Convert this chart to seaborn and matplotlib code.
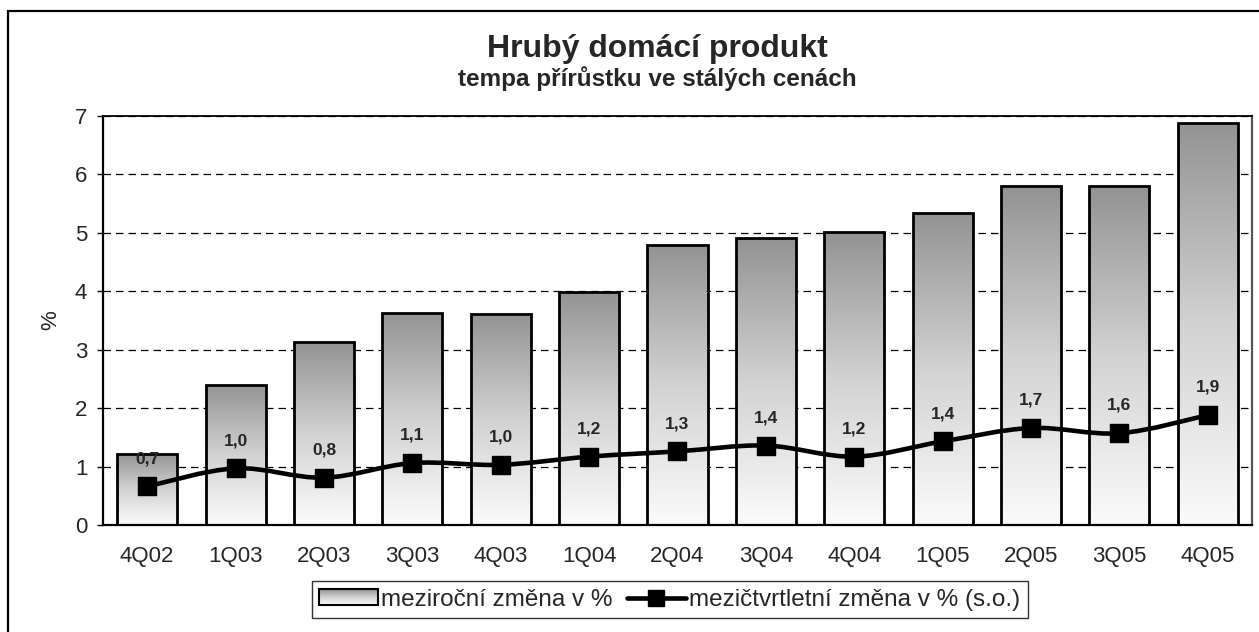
import matplotlib
matplotlib.use("Agg")
import matplotlib.pyplot as plt
import seaborn as sns
import numpy as np
from matplotlib.path import Path
from matplotlib.patches import PathPatch, Rectangle
from matplotlib.lines import Line2D
from matplotlib.legend_handler import HandlerBase
from matplotlib.image import BboxImage
from matplotlib.transforms import Bbox, TransformedBbox

quarters = ["4Q02", "1Q03", "2Q03", "3Q03", "4Q03", "1Q04", "2Q04",
            "3Q04", "4Q04", "1Q05", "2Q05", "3Q05", "4Q05"]
yoy = [1.22, 2.40, 3.13, 3.63, 3.61, 3.99, 4.80, 4.91, 5.01, 5.34, 5.80, 5.80, 6.88]
qoq = [0.66, 0.97, 0.81, 1.06, 1.03, 1.17, 1.26, 1.36, 1.17, 1.43, 1.66, 1.57, 1.88]

title = "Hrubý domácí produkt"
subtitle = "tempa přírůstku ve stálých cenách"
bar_label = "meziroční změna v %"
line_label = "mezičtvrtletní změna v % (s.o.)"

sns.set_style("white")
plt.rcParams["font.family"] = ["Liberation Sans", "DejaVu Sans"]

# vertical gradient: dark grey on top, almost white at the bottom
grad = np.linspace(0, 1, 256).reshape(-1, 1)
gray_cmap = matplotlib.colors.LinearSegmentedColormap.from_list(
    "barfill", ["#939393", "#d2d2d2", "#fbfbfb"])

fig = plt.figure(figsize=(12.59, 6.32), dpi=100)
ax = fig.add_axes([0.0818, 0.1693, 0.9126, 0.6472])

sns.barplot(x=quarters, y=yoy, ax=ax, width=0.68, color="white",
            edgecolor="black", linewidth=2, zorder=3)

for p in ax.patches:
    x0, y0 = p.get_x(), p.get_y()
    w, h = p.get_width(), p.get_height()
    im = ax.imshow(grad, cmap=gray_cmap, aspect="auto", origin="upper",
                   extent=[x0, x0 + w, y0, y0 + h], zorder=2.5,
                   interpolation="bilinear")
    im.set_clip_path(p)
    p.set_facecolor("none")

# smoothed line (Catmull-Rom style Bezier through the data points)
xs = np.arange(len(qoq), dtype=float)
ys = np.array(qoq)
pts = np.column_stack([xs, ys])
verts = [tuple(pts[0])]
codes = [Path.MOVETO]
for i in range(len(pts) - 1):
    p0 = pts[i - 1] if i > 0 else pts[i]
    p1, p2 = pts[i], pts[i + 1]
    p3 = pts[i + 2] if i + 2 < len(pts) else pts[i + 1]
    c1 = p1 + (p2 - p0) / 6
    c2 = p2 - (p3 - p1) / 6
    verts += [tuple(c1), tuple(c2), tuple(p2)]
    codes += [Path.CURVE4] * 3
ax.add_patch(PathPatch(Path(verts, codes), facecolor="none", edgecolor="black",
                       lw=3.3, zorder=4, capstyle="round", joinstyle="round"))
sns.scatterplot(x=xs, y=ys, ax=ax, marker="s", s=160, color="black",
                edgecolor="black", zorder=5, legend=False)

for xi, v in zip(xs, qoq):
    ax.annotate(f"{v:.1f}".replace(".", ","), (xi, v), xytext=(0, 20),
                textcoords="offset points", ha="center", va="center",
                fontsize=12.5, fontweight="bold", zorder=6)

ax.set_xlim(-0.5, len(quarters) - 0.5)
ax.set_ylim(0, 7)
ax.set_yticks(range(8))
ax.yaxis.grid(True, color="black", linestyle=(0, (6, 4)), linewidth=0.9)
ax.set_axisbelow(True)
ax.tick_params(axis="y", length=4.3, width=1, pad=7, labelsize=16, left=True, color="black")
ax.tick_params(axis="x", length=0, pad=15, labelsize=16)
ax.set_ylabel("%", fontsize=16, labelpad=10)
ax.set_xlabel("")
for side, sp in ax.spines.items():
    sp.set_visible(True)
    sp.set_color("black")
    sp.set_linewidth(1.6)
ax.spines["right"].set_color("#555555")
ax.spines["top"].set_linewidth(1.3)

fig.text(0.522, 0.922, title, ha="center", va="center", fontsize=23, fontweight="bold")
fig.text(0.522, 0.876, subtitle, ha="center", va="center", fontsize=17.5, fontweight="bold")


class GradientHandler(HandlerBase):
    def create_artists(self, legend, orig_handle, xdescent, ydescent,
                       width, height, fontsize, trans):
        x0, y0 = -xdescent, -ydescent
        bb = TransformedBbox(Bbox.from_bounds(x0, y0, width, height), trans)
        img = BboxImage(bb, cmap=gray_cmap, interpolation="bilinear")
        img.set_data(np.linspace(0, 1, 64).reshape(-1, 1))
        img.set_clim(0, 1)
        rect = Rectangle((x0, y0), width, height, facecolor="none",
                         edgecolor="black", lw=1.5, transform=trans)
        return [img, rect]


bar_handle = Rectangle((0, 0), 1, 1)
line_handle = Line2D([], [], color="black", lw=3.3, marker="s", markersize=12)
leg = fig.legend([bar_handle, line_handle], [bar_label, line_label],
                 handler_map={Rectangle: GradientHandler()},
                 loc="center", bbox_to_anchor=(0.532, 0.051), ncol=2,
                 fontsize=17.5, frameon=True, fancybox=False, edgecolor="black",
                 handlelength=2.4, handleheight=0.6, handletextpad=0.15,
                 columnspacing=0.6, borderpad=0.3, borderaxespad=0)
leg.get_frame().set_linewidth(1.0)

fig.add_artist(Rectangle((8 / 1259, -0.05), 1.2, 1.05 - 11 / 632,
                         transform=fig.transFigure, facecolor="none",
                         edgecolor="black", lw=1.6))

fig.savefig("out.png", dpi=100)
